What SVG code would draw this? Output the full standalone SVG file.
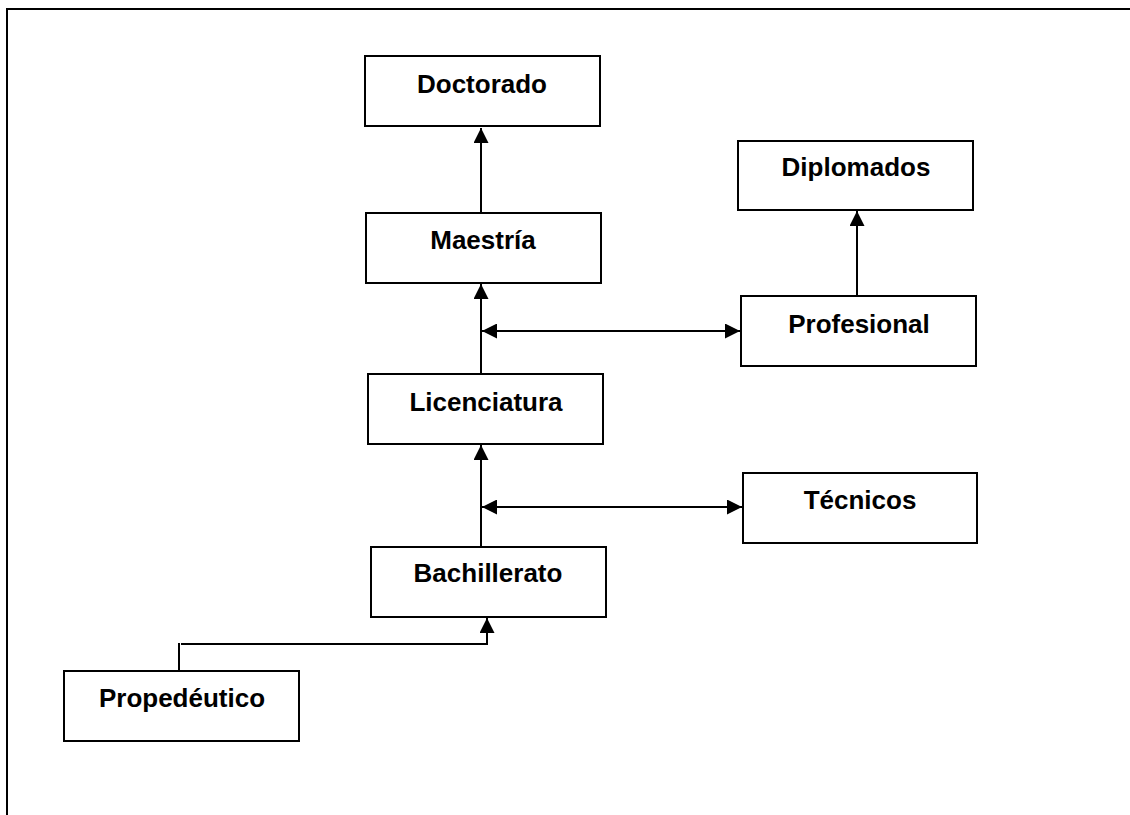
<svg xmlns="http://www.w3.org/2000/svg" width="1130" height="815" viewBox="0 0 1130 815">
<defs>
<marker id="ah" viewBox="0 0 15 15" refX="15" refY="7.5" markerWidth="15" markerHeight="15" markerUnits="userSpaceOnUse" orient="auto-start-reverse">
<path d="M0,0 L15,7.5 L0,15 z" fill="#000"/>
</marker>
<style>
.box{fill:#fff;stroke:#000;stroke-width:2}
.lbl{font-family:"Liberation Sans",Arial,sans-serif;font-weight:bold;font-size:26px;fill:#000;text-anchor:middle}
.c{fill:none;stroke:#000;stroke-width:2}
</style>
</defs>
<rect width="1130" height="815" fill="#fff"/>
<path d="M7,815 V9 H1130" fill="none" stroke="#000" stroke-width="2"/>
<g id="connectors">
<path class="c" d="M481,213 V128" marker-end="url(#ah)"/>
<path class="c" d="M481,374 V284" marker-end="url(#ah)"/>
<path class="c" d="M482,331 H740" marker-start="url(#ah)" marker-end="url(#ah)"/>
<path class="c" d="M857,296 V211" marker-end="url(#ah)"/>
<path class="c" d="M481,547 V445" marker-end="url(#ah)"/>
<path class="c" d="M482,507 H742" marker-start="url(#ah)" marker-end="url(#ah)"/>
<path class="c" d="M179,671 V643"/>
<path class="c" d="M181,644 H487 V618" marker-end="url(#ah)"/>
</g>
<g id="doctorado"><rect class="box" x="365" y="56" width="235" height="70"/><text class="lbl" x="482" y="93">Doctorado</text></g>
<g id="maestria"><rect class="box" x="366" y="213" width="235" height="70"/><text class="lbl" x="483" y="249">Maestría</text></g>
<g id="diplomados"><rect class="box" x="738" y="141" width="235" height="69"/><text class="lbl" x="856" y="176">Diplomados</text></g>
<g id="profesional"><rect class="box" x="741" y="296" width="235" height="70"/><text class="lbl" x="859" y="333">Profesional</text></g>
<g id="licenciatura"><rect class="box" x="368" y="374" width="235" height="70"/><text class="lbl" x="486" y="411">Licenciatura</text></g>
<g id="tecnicos"><rect class="box" x="743" y="473" width="234" height="70"/><text class="lbl" x="860" y="509">Técnicos</text></g>
<g id="bachillerato"><rect class="box" x="371" y="547" width="235" height="70"/><text class="lbl" x="488" y="582">Bachillerato</text></g>
<g id="propedeutico"><rect class="box" x="64" y="671" width="235" height="70"/><text class="lbl" x="182" y="707">Propedéutico</text></g>
</svg>
